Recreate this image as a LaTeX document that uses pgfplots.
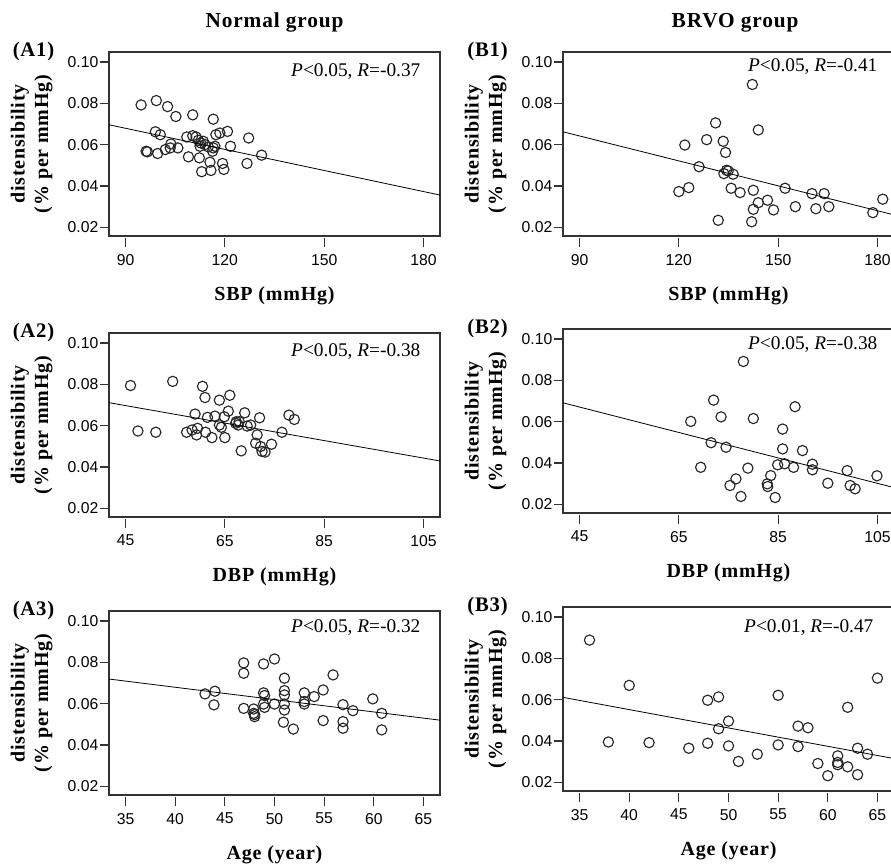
\documentclass[border=0pt]{standalone}
\usepackage{pgfplots}
\pgfplotsset{compat=1.18}
\usepackage{fontspec}
\setmainfont{Liberation Serif}
\newfontfamily\tickfont{Liberation Sans}
\newfontfamily\labfont[LetterSpace=4]{Liberation Serif}
\newcommand\pxu{0.75pt}

\pgfplotsset{
  panel/.style={
    width=248.25pt, height=138pt, scale only axis, anchor=north west,
    ymin=0.0158, ymax=0.1048, ytick={0.02,0.04,0.06,0.08,0.10},
    tick pos=left, tick align=outside, major tick length=7pt,
    /pgf/number format/assume math mode=true,
    yticklabel style={/pgf/number format/fixed, /pgf/number format/fixed zerofill,
      /pgf/number format/precision=2, font=\tickfont\fontsize{11.8}{13}\selectfont, inner xsep=0.8pt},
    xticklabel style={font=\tickfont\fontsize{11.8}{13}\selectfont, yshift=-3pt},
    axis line style={black!80, line width=0.9pt},
    tick style={black!80, line width=0.9pt},
    xtick style={yshift=-1.5pt},
    clip mode=individual,
    ylabel={distensibility\\(\% per mmHg)},
    ylabel style={font=\labfont\bfseries\fontsize{15}{17.5}\selectfont, align=center,
      at={(axis description cs:-0.17,0.5)}, anchor=south, inner sep=0pt},
    xlabel style={font=\labfont\bfseries\fontsize{15}{17.5}\selectfont,
      at={(axis description cs:0.5,-0.351)}, anchor=base, inner sep=0pt},
  },
  pts/.style={only marks, mark=o, mark size=3.85pt, mark options={line width=0.85pt, draw=black!85}},
  fit/.style={no marks, black, line width=0.6pt},
}
\newcommand\anno[3]{\node[anchor=base east, font=\fontsize{14.5}{17}\selectfont] at (rel axis cs:#1,#2) {#3};}
\newcommand\plabel[1]{\node[font=\labfont\bfseries\fontsize{15.5}{18}\selectfont] at (rel axis cs:-0.228,1.0) {#1};}

\begin{document}
\begin{tikzpicture}

% ---- A1 ----
\begin{axis}[panel, at={(109*\pxu,-52*\pxu)}, xmin=85, xmax=185, xtick={90,120,150,180},
  xlabel={SBP (mmHg)}]
  \addplot[pts] coordinates {
    (94.7,0.0792)(99.3,0.0813)(102.7,0.0784)(105.2,0.0736)(110.3,0.0744)(116.5,0.0723)
    (99,0.0662)(100.5,0.0648)(96.2,0.0568)(96.6,0.0565)(99.7,0.0557)(102,0.0576)
    (103.5,0.0584)(103.7,0.0603)(105.8,0.0584)(108.5,0.0637)(110.3,0.0643)(111.3,0.0637)
    (112,0.0621)(112.7,0.0608)(112.5,0.0592)(109,0.0541)(112.3,0.0536)(113,0.0469)
    (115.5,0.0515)(115.8,0.0475)(116.5,0.0584)(117,0.0592)(116.3,0.0568)(117.3,0.0648)
    (118.5,0.0656)(120.8,0.0664)(119.3,0.0509)(119.7,0.0480)(121.7,0.0592)(127.2,0.0632)
    (126.7,0.0509)(131.1,0.0549)(114,0.0600)(115,0.0589)(113.5,0.0616)
  };
  \addplot[fit] coordinates {(85,0.0696)(185,0.0356)};
  \anno{0.955}{0.865}{\textit{P}<0.05, \textit{R}=-0.37}
  \plabel{(A1)}
  \node[font=\labfont\bfseries\fontsize{16}{18}\selectfont] at (rel axis cs:0.5,1.162) {Normal group};
\end{axis}

% ---- A2 ----
\begin{axis}[panel, at={(109*\pxu,-333*\pxu)}, xmin=41.67, xmax=108.33, xtick={45,65,85,105},
  xlabel={DBP (mmHg)}]
  \addplot[pts] coordinates {
    (46,0.0794)(47.5,0.0574)(51.1,0.0568)(54.5,0.0814)(60.5,0.0790)(61,0.0736)
    (59,0.0656)(57.3,0.0568)(58.4,0.0579)(59.5,0.0587)(59.3,0.0555)(61.1,0.0568)
    (61.5,0.0640)(62.4,0.0542)(63,0.0646)(63.9,0.0723)(63.9,0.0603)(64.3,0.0592)
    (64.9,0.0643)(65,0.0542)(65.7,0.0670)(66,0.0747)(67.2,0.0611)(67.7,0.0603)
    (67.9,0.0619)(68.3,0.0478)(69,0.0662)(69.5,0.0598)(70.2,0.0603)(72,0.0638)
    (71.5,0.0555)(71.2,0.0515)(72.2,0.0499)(72.5,0.0475)(73.1,0.0472)(74.4,0.0510)
    (76.5,0.0568)(77.9,0.0651)(79,0.0630)(67.3,0.0619)
  };
  \addplot[fit] coordinates {(41.67,0.0711)(108.33,0.0429)};
  \anno{0.955}{0.872}{\textit{P}<0.05, \textit{R}=-0.38}
  \plabel{(A2)}
\end{axis}

% ---- A3 ----
\begin{axis}[panel, at={(109*\pxu,-611*\pxu)}, xmin=33.33, xmax=66.67, xtick={35,40,...,65},
  xlabel={Age (year)}]
  \addplot[pts] coordinates {
    (43,0.0647)(44,0.0660)(43.9,0.0594)(46.9,0.0797)(46.9,0.0747)(46.9,0.0577)
    (47.9,0.0574)(47.9,0.0553)(48,0.0537)(48.9,0.0792)(50,0.0816)(48.9,0.0652)
    (49,0.0639)(48.9,0.0598)(49,0.0582)(50,0.0598)(51,0.0723)(51,0.0663)
    (51,0.0642)(51,0.0598)(51,0.0569)(50.9,0.0510)(51.9,0.0477)(53,0.0652)
    (53,0.0610)(53,0.0598)(54,0.0634)(54.9,0.0666)(54.9,0.0518)(55.9,0.0739)
    (56.9,0.0595)(56.9,0.0513)(56.9,0.0481)(57.9,0.0566)(59.9,0.0623)(60.8,0.0553)
    (60.8,0.0473)(48,0.0547)
  };
  \addplot[fit] coordinates {(33.33,0.0719)(66.67,0.0520)};
  \anno{0.955}{0.881}{\textit{P}<0.05, \textit{R}=-0.32}
  \plabel{(A3)}
\end{axis}

% ---- B1 ----
\begin{axis}[panel, at={(563*\pxu,-52*\pxu)}, xmin=85, xmax=185, xtick={90,120,150,180},
  xlabel={SBP (mmHg)}]
  \addplot[pts] coordinates {
    (120,0.0373)(123,0.0392)(121.8,0.0598)(126.1,0.0493)(128.4,0.0624)(131.1,0.0705)
    (131.9,0.0234)(133.4,0.0616)(134.1,0.0562)(133.6,0.0460)(134.9,0.0473)(136.4,0.0457)
    (135.8,0.0389)(138.5,0.0368)(142.2,0.0891)(142.5,0.0379)(142.5,0.0287)(142,0.0227)
    (144,0.0671)(144,0.0319)(146.8,0.0331)(148.6,0.0284)(152.1,0.0389)(155.2,0.0300)
    (160.2,0.0363)(161.4,0.0290)(163.9,0.0363)(165.3,0.0300)(178.6,0.0271)(181.6,0.0336)
    (134.4,0.0476)
  };
  \addplot[fit] coordinates {(85,0.0662)(185,0.0260)};
  \anno{0.964}{0.892}{\textit{P}<0.05, \textit{R}=-0.41}
  \plabel{(B1)}
  \node[font=\labfont\bfseries\fontsize{16}{18}\selectfont] at (rel axis cs:0.52,1.157) {BRVO group};
\end{axis}

% ---- B2 ----
\begin{axis}[panel, at={(563*\pxu,-329*\pxu)}, xmin=41.67, xmax=108.33, xtick={45,65,85,105},
  xlabel={DBP (mmHg)}]
  \addplot[pts] coordinates {
    (67.4,0.0601)(69.4,0.0379)(71.5,0.0498)(72,0.0704)(73.5,0.0623)(74.5,0.0476)
    (75.3,0.0291)(76.5,0.0323)(77.5,0.0238)(78,0.0891)(78.9,0.0375)(80,0.0615)
    (82.8,0.0299)(82.9,0.0286)(83.5,0.0339)(84.4,0.0233)(84.9,0.0391)(85.9,0.0564)
    (85.9,0.0468)(86.3,0.0396)(88.1,0.0379)(88.4,0.0672)(89.9,0.0460)(91.9,0.0394)
    (91.9,0.0367)(95,0.0302)(98.9,0.0363)(99.5,0.0291)(100.5,0.0275)(104.9,0.0338)
  };
  \addplot[fit] coordinates {(41.67,0.0691)(108.33,0.0281)};
  \anno{0.964}{0.886}{\textit{P}<0.05, \textit{R}=-0.38}
  \plabel{(B2)}
\end{axis}

% ---- B3 ----
\begin{axis}[panel, at={(563*\pxu,-607*\pxu)}, xmin=33.33, xmax=66.67, xtick={35,40,...,65},
  xlabel={Age (year)}]
  \addplot[pts] coordinates {
    (36,0.0888)(37.9,0.0395)(40,0.0669)(42,0.0392)(46,0.0365)(47.9,0.0597)
    (47.9,0.0389)(49,0.0613)(49,0.0459)(50,0.0496)(50,0.0376)(51,0.0301)
    (52.9,0.0336)(55,0.0621)(55,0.0381)(57,0.0472)(58,0.0464)(57,0.0373)
    (59,0.0291)(60,0.0232)(61,0.0328)(61,0.0296)(61,0.0285)(62,0.0563)
    (62,0.0275)(63,0.0365)(63,0.0237)(64,0.0336)(65,0.0704)
  };
  \addplot[fit] coordinates {(33.33,0.0611)(66.67,0.0315)};
  \anno{0.952}{0.859}{\textit{P}<0.01, \textit{R}=-0.47}
  \plabel{(B3)}
\end{axis}

\pgfresetboundingbox
\path[use as bounding box] (0,0) rectangle (891*\pxu,-865*\pxu);
\end{tikzpicture}
\end{document}
